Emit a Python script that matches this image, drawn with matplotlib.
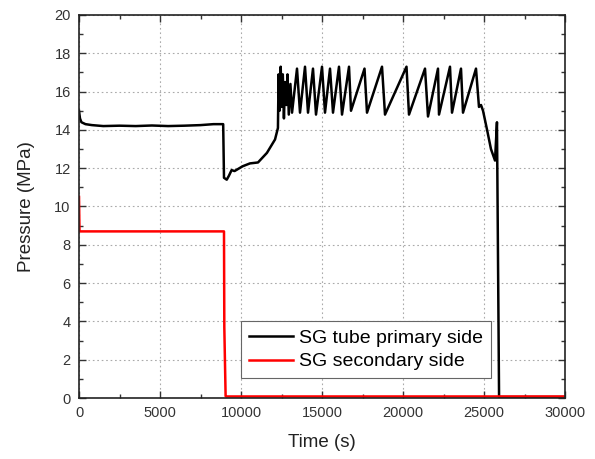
import matplotlib
matplotlib.use("Agg")
import matplotlib.pyplot as plt
from matplotlib.ticker import MultipleLocator

# Data (time in s, pressure in MPa)
primary_t = [0, 60, 150, 400, 800, 1500, 2500, 3500, 4500, 5500, 6500, 7500, 8300, 8900,
             8950, 9120, 9250, 9420, 9600, 10100, 10550, 11050, 11600, 12100, 12280,
             12320, 12380, 12450, 12520, 12580, 12650, 12720, 12800, 12870, 12950, 13050, 13150,
             13457, 13642, 13951, 14136, 14444, 14630, 15000, 15185, 15494, 15679,
             16049, 16235, 16667, 16790, 17624, 17778, 18704, 18889, 20216, 20370,
             21358, 21543, 22160, 22222, 22901, 23025, 23580, 23704, 24506,
             24690, 24815, 24940, 25190, 25430, 25680, 25800, 25930, 26100, 30000]
primary_p = [15.0, 14.6, 14.4, 14.3, 14.25, 14.2, 14.22, 14.2, 14.23, 14.2, 14.22, 14.25, 14.3, 14.3,
             11.5, 11.4, 11.6, 11.9, 11.85, 12.1, 12.25, 12.3, 12.8, 13.5, 14.1,
             16.9, 15.0, 17.3, 15.2, 16.9, 14.6, 16.5, 15.3, 16.9, 14.8, 16.4, 14.9,
             17.2, 14.9, 17.3, 14.9, 17.2, 14.8, 17.3, 14.9, 17.2, 14.9,
             17.3, 14.8, 17.3, 15.0, 17.2, 14.9, 17.3, 14.8, 17.3, 14.8,
             17.2, 14.7, 17.2, 14.8, 17.3, 14.9, 17.2, 14.9, 17.2,
             15.2, 15.3, 15.0, 14.0, 13.0, 12.4, 14.4, 0.05, 0.05, 0.05]

secondary_t = [0, 30, 8950, 8970, 9050, 9100, 30000]
secondary_p = [10.5, 8.7, 8.7, 3.7, 0.1, 0.08, 0.08]

labels = ["SG tube primary side", "SG secondary side"]

plt.rcParams["font.family"] = ["Liberation Sans", "DejaVu Sans"]

fig = plt.figure(figsize=(5.95, 4.59), dpi=100)
ax = fig.add_axes([79 / 595, 1 - 398 / 459, 486 / 595, 383 / 459])

ax.plot(primary_t, primary_p, color="black", linewidth=1.8, label=labels[0])
ax.plot(secondary_t, secondary_p, color="#ff0000", linewidth=1.8, label=labels[1])

ax.set_xlim(0, 30000)
ax.set_ylim(0, 20)
ax.xaxis.set_major_locator(MultipleLocator(5000))
ax.xaxis.set_minor_locator(MultipleLocator(2500))
ax.yaxis.set_major_locator(MultipleLocator(2))
ax.yaxis.set_minor_locator(MultipleLocator(1))
ax.tick_params(which="both", direction="in", top=True, right=True, labelsize=10.5,
               colors="#333333", labelcolor="#333333", pad=6)
ax.tick_params(which="major", length=5, width=1)
ax.tick_params(which="minor", length=3, width=1)
ax.grid(True, which="major", linestyle=(0, (1.5, 2.5)), color="#aaaaaa", linewidth=0.8)
for s in ax.spines.values():
    s.set_linewidth(1.2)
    s.set_color("#222222")

ax.set_xlabel("Time (s)", fontsize=13.5, color="#222222", labelpad=10)
ax.set_ylabel("Pressure (MPa)", fontsize=13.5, color="#222222", labelpad=14)

leg = ax.legend(loc="lower left", bbox_to_anchor=(0.333, 0.052), fontsize=14,
                frameon=True, fancybox=False, framealpha=1, edgecolor="#666666",
                handlelength=2.3, handletextpad=0.3, borderpad=0.4, labelspacing=0.3,
                borderaxespad=0)
leg.get_frame().set_linewidth(0.8)

fig.savefig("out.png", dpi=100)
